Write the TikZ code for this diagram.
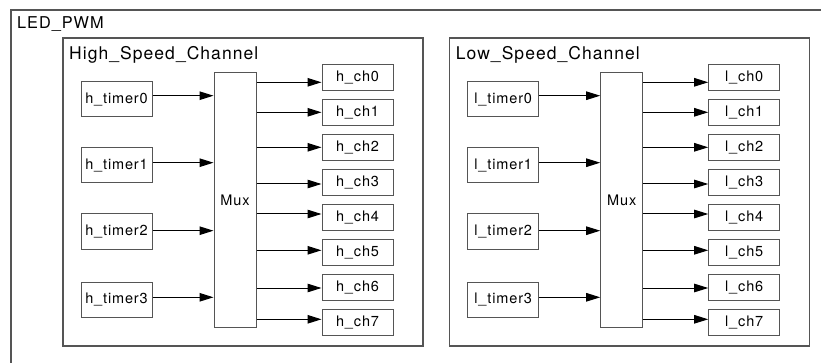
\documentclass[tikz,border=0pt]{standalone}
\usepackage{fontspec}
\setmainfont{TeX Gyre Heros}[LetterSpace=6]
\usetikzlibrary{arrows.meta}
\definecolor{boxgray}{HTML}{555555}
\tikzset{
  box/.style={draw=boxgray, line width=1pt, inner sep=0pt, minimum width=71pt,
    font=\fontsize{14.5}{17}\selectfont, text=black},
  tbox/.style={box, minimum height=35pt},
  cbox/.style={box, minimum height=26pt},
  muxbox/.style={box, minimum width=42pt, minimum height=254pt},
  arr/.style={-{Triangle[length=14pt,width=8.5pt]}, line width=1pt, black},
  grp/.style={draw=boxgray, line width=1.1pt},
  lbl/.style={anchor=base west, inner sep=0pt, font=\fontsize{17.5}{20}\selectfont},
}
\begin{document}
\begin{tikzpicture}[x=1pt,y=-1pt]
\clip (0,0) rectangle (821,363);
\fill[white] (0,0) rectangle (821,363);
% outer LED_PWM box
\draw[grp] (11,10) rectangle (840,380);
\node[lbl, font=\fontsize{16.3}{19}\selectfont] (ledlbl) at (17,29) {LED\_PWM};
\foreach \pre/\dx/\gname in {h/0/High, l/386.7/Low}{
  \draw[grp] (63+\dx,38) rectangle (423+\dx,346);
  \node[lbl] (\pre lbl) at (69+\dx,60) {\gname\_Speed\_Channel};
  \node[muxbox] (\pre mux) at (235+\dx,200) {Mux};
  \foreach \i/\cy/\ay in {0/99.5/95.7, 1/165.5/162.7, 2/231.5/230.7, 3/299.5/297.3}{
    \node[tbox] (\pre t\i) at (116.5+\dx,\cy) {\pre\_timer\i};
    \draw[arr] (\pre t\i.east |- 0,\ay) -- (\pre mux.west |- 0,\ay);
  }
  \foreach \i/\ay in {0/82.3, 1/112.3, 2/147.3, 3/184, 4/214, 5/250.3, 6/288, 7/319.3}{
    \node[cbox] (\pre c\i) at (357.5+\dx,77.5+34.93*\i) {\pre\_ch\i};
    \draw[arr] (\pre mux.east |- 0,\ay) -- (\pre c\i.west |- 0,\ay);
  }
}
\end{tikzpicture}
\end{document}
